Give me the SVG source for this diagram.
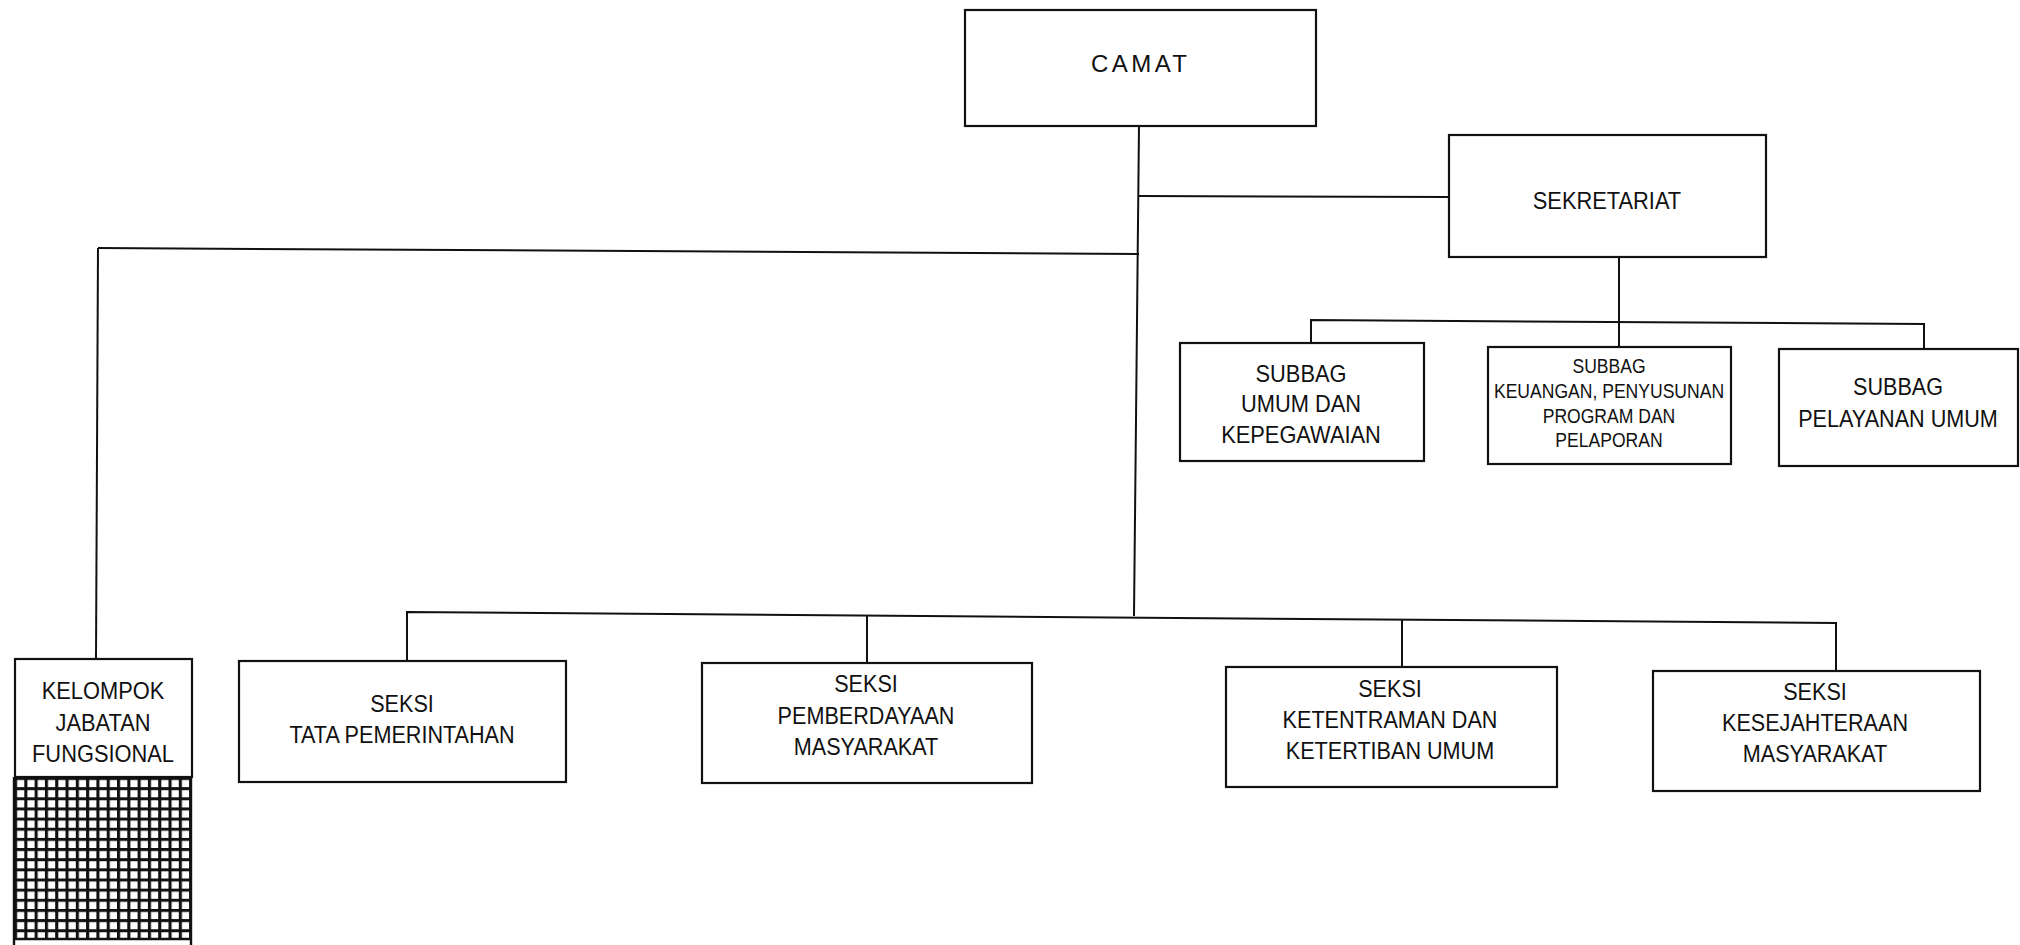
<svg xmlns="http://www.w3.org/2000/svg" width="2020" height="945" viewBox="0 0 2020 945">
<style>
.box{fill:#fff;stroke:#111;stroke-width:2.2}
.ln{fill:none;stroke:#111;stroke-width:2}
.t{font-family:"Liberation Sans",Arial,sans-serif;font-size:24px;fill:#111;text-anchor:middle}
.s{font-size:19.5px}
</style>
<defs>
<pattern id="grid" patternUnits="userSpaceOnUse" x="14" y="777" width="10.3" height="10.15">
<rect width="10.3" height="10.15" fill="#fff"/>
<path d="M1.5 0V10.15M0 1.5H10.3" stroke="#111" stroke-width="3.2" fill="none"/>
</pattern>
</defs>
<rect width="2020" height="945" fill="#fff"/>
<g id="connectors">
<path class="ln" d="M1139 125L1134 616"/>
<path class="ln" d="M1139 196L1449 197"/>
<path class="ln" d="M98 248L1139 254"/>
<path class="ln" d="M98 248L96 659"/>
<path class="ln" d="M1619 257V322"/>
<path class="ln" d="M1311 343V320L1924 324V349"/>
<path class="ln" d="M1619 322V347"/>
<path class="ln" d="M407 661V612L1836 623V671"/>
<path class="ln" d="M867 615V663"/>
<path class="ln" d="M1402 619V667"/>
</g>
<g id="camat">
<rect class="box" x="965" y="10" width="351" height="116"/>
<text class="t" x="1091" y="72" style="text-anchor:start" textLength="96" lengthAdjust="spacing">CAMAT</text>
</g>
<g id="sekretariat">
<rect class="box" x="1449" y="135" width="317" height="122"/>
<g transform="translate(1607 0) scale(0.91 1)"><text class="t" x="0" y="209">SEKRETARIAT</text></g>
</g>
<g id="subbag-umum">
<rect class="box" x="1180" y="343" width="244" height="118"/>
<g transform="translate(1301 0) scale(0.91 1)">
<text class="t" x="0" y="382">SUBBAG</text>
<text class="t" x="0" y="412">UMUM DAN</text>
<text class="t" x="0" y="443">KEPEGAWAIAN</text>
</g>
</g>
<g id="subbag-keuangan">
<rect class="box" x="1488" y="347" width="243" height="117"/>
<g transform="translate(1609 0) scale(0.9 1)">
<text class="t s" x="0" y="373">SUBBAG</text>
<text class="t s" x="0" y="398">KEUANGAN, PENYUSUNAN</text>
<text class="t s" x="0" y="423">PROGRAM DAN</text>
<text class="t s" x="0" y="447">PELAPORAN</text>
</g>
</g>
<g id="subbag-pelayanan">
<rect class="box" x="1779" y="349" width="239" height="117"/>
<g transform="translate(1898 0) scale(0.9 1)">
<text class="t" x="0" y="395">SUBBAG</text>
<text class="t" x="0" y="427">PELAYANAN UMUM</text>
</g>
</g>
<g id="kelompok">
<rect x="14" y="777" width="177" height="162" fill="url(#grid)"/>
<rect class="box" x="15" y="659" width="177" height="118"/>
<path class="ln" d="M14 777V948M191 777V948M14 939H191" style="stroke-width:2.4"/>
<g transform="translate(103 0) scale(0.91 1)">
<text class="t" x="0" y="699">KELOMPOK</text>
<text class="t" x="0" y="731">JABATAN</text>
<text class="t" x="0" y="762">FUNGSIONAL</text>
</g>
</g>
<g id="seksi-tata">
<rect class="box" x="239" y="661" width="327" height="121"/>
<g transform="translate(402 0) scale(0.9 1)">
<text class="t" x="0" y="712">SEKSI</text>
<text class="t" x="0" y="743">TATA PEMERINTAHAN</text>
</g>
</g>
<g id="seksi-pemberdayaan">
<rect class="box" x="702" y="663" width="330" height="120"/>
<g transform="translate(866 0) scale(0.9 1)">
<text class="t" x="0" y="692">SEKSI</text>
<text class="t" x="0" y="724">PEMBERDAYAAN</text>
<text class="t" x="0" y="755">MASYARAKAT</text>
</g>
</g>
<g id="seksi-ketentraman">
<rect class="box" x="1226" y="667" width="331" height="120"/>
<g transform="translate(1390 0) scale(0.9 1)">
<text class="t" x="0" y="697">SEKSI</text>
<text class="t" x="0" y="728">KETENTRAMAN DAN</text>
<text class="t" x="0" y="759">KETERTIBAN UMUM</text>
</g>
</g>
<g id="seksi-kesejahteraan">
<rect class="box" x="1653" y="671" width="327" height="120"/>
<g transform="translate(1815 0) scale(0.9 1)">
<text class="t" x="0" y="700">SEKSI</text>
<text class="t" x="0" y="731">KESEJAHTERAAN</text>
<text class="t" x="0" y="762">MASYARAKAT</text>
</g>
</g>
</svg>
